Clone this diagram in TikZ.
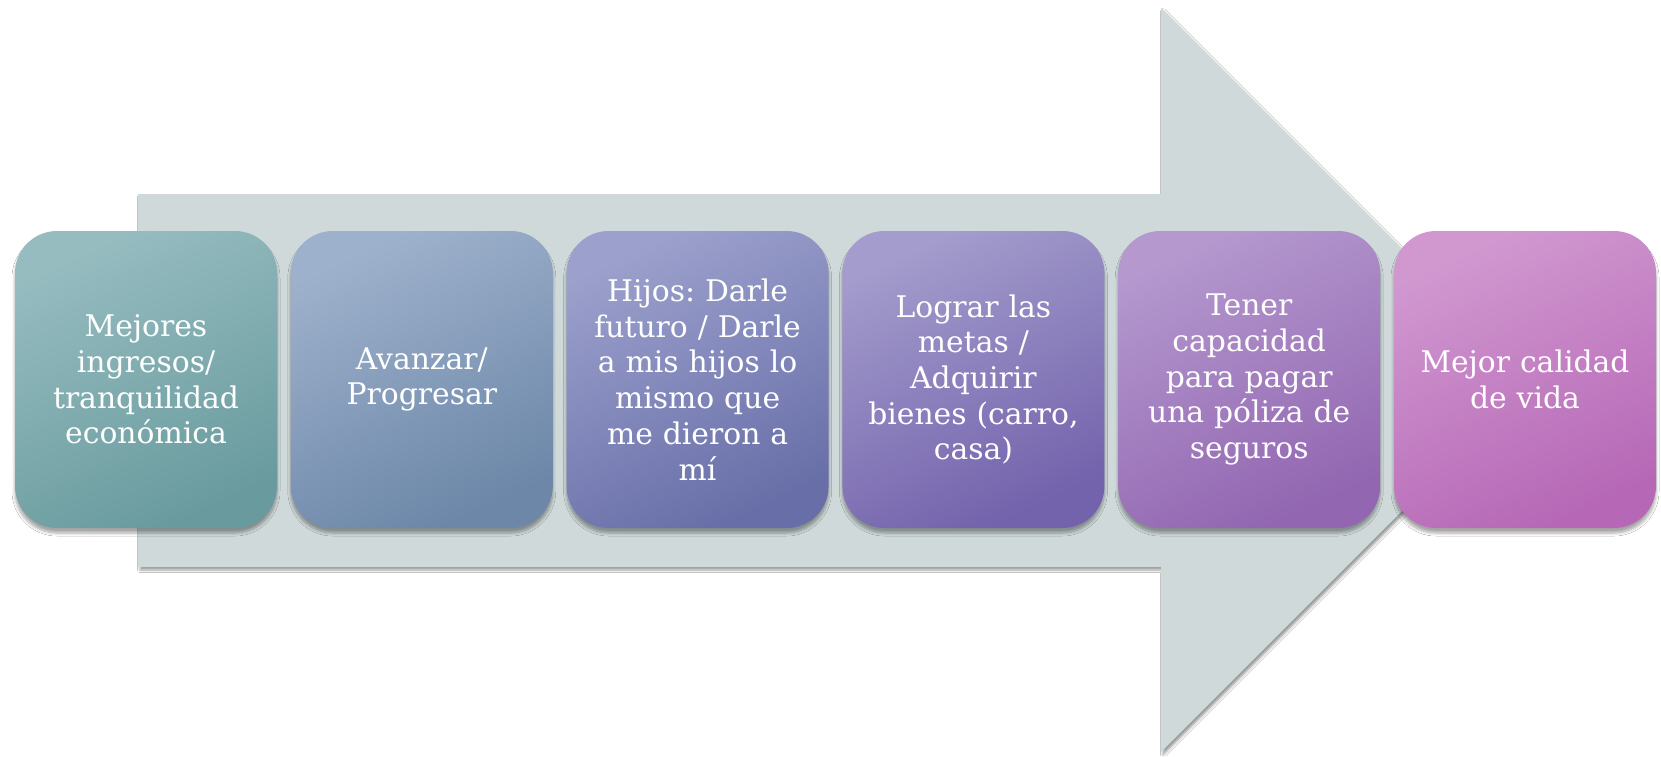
\documentclass[tikz,border=0pt]{standalone}
\usepackage{fontspec}
\newfontfamily\boxfont{DejaVu Serif}
\usetikzlibrary{shadows.blur}
\frenchspacing
\definecolor{arrowgray}{HTML}{CFD9D9}
\definecolor{aT}{HTML}{96BCC0}\definecolor{aB}{HTML}{699B9E}
\definecolor{bT}{HTML}{9EB1CC}\definecolor{bB}{HTML}{6C87A8}
\definecolor{cT}{HTML}{9BA0CC}\definecolor{cB}{HTML}{686FA8}
\definecolor{dT}{HTML}{A39CCC}\definecolor{dB}{HTML}{7362AC}
\definecolor{eT}{HTML}{B498CE}\definecolor{eB}{HTML}{9266B1}
\definecolor{fT}{HTML}{D198D0}\definecolor{fB}{HTML}{B668B6}
\tikzset{
  stepbox/.style={minimum width=262pt, minimum height=297pt, rounded corners=42pt,
    text width=252pt, align=center, text=white, inner sep=0pt,
    font=\boxfont\fontsize{29.8}{35.7}\selectfont,
    blur shadow={shadow xshift=0pt, shadow yshift=-5pt, shadow blur steps=6, shadow opacity=35, shadow blur radius=3pt}},
  grad/.style 2 args={top color=#1, bottom color=#2, shading angle=25},
  arrowbody/.style={fill=arrowgray,
    blur shadow={shadow xshift=2pt, shadow yshift=-3pt, shadow blur steps=5, shadow opacity=40, shadow blur radius=2.5pt}}
}
\begin{document}
\begin{tikzpicture}[x=1pt,y=-1pt]
\useasboundingbox (0,0) rectangle (1661,756);
\fill[white] (0,0) rectangle (1661,756);
\coordinate (a1) at (138,194);
\coordinate (a2) at (1161,194);
\coordinate (a3) at (1161,8);
\coordinate (a4) at (1533,380);
\coordinate (a5) at (1161,752);
\coordinate (a6) at (1161,567);
\coordinate (a7) at (138,567);
\path[arrowbody] (a1) -- (a2) -- (a3) -- (a4) -- (a5) -- (a6) -- (a7) -- cycle;
\node[stepbox, grad={aT}{aB}] (b1) at (146,379.5) {Mejores\\ingresos/\\tranquilidad\\económica};
\node[stepbox, grad={bT}{bB}] (b2) at (421.8,379.5) {Avanzar/\\Progresar};
\node[stepbox, grad={cT}{cB}] (b3) at (697.6,379.5) {Hijos: Darle\\futuro / Darle\\a mis hijos lo\\mismo que\\me dieron a\\mí};
\node[stepbox, grad={dT}{dB}] (b4) at (973.4,379.5) {Lograr las\\metas /\\Adquirir\\bienes (carro,\\casa)};
\node[stepbox, grad={eT}{eB}] (b5) at (1249.2,379.5) {Tener\\capacidad\\para pagar\\una póliza de\\seguros};
\node[stepbox, grad={fT}{fB}] (b6) at (1525,379.5) {Mejor calidad\\de vida};
\end{tikzpicture}
\end{document}
